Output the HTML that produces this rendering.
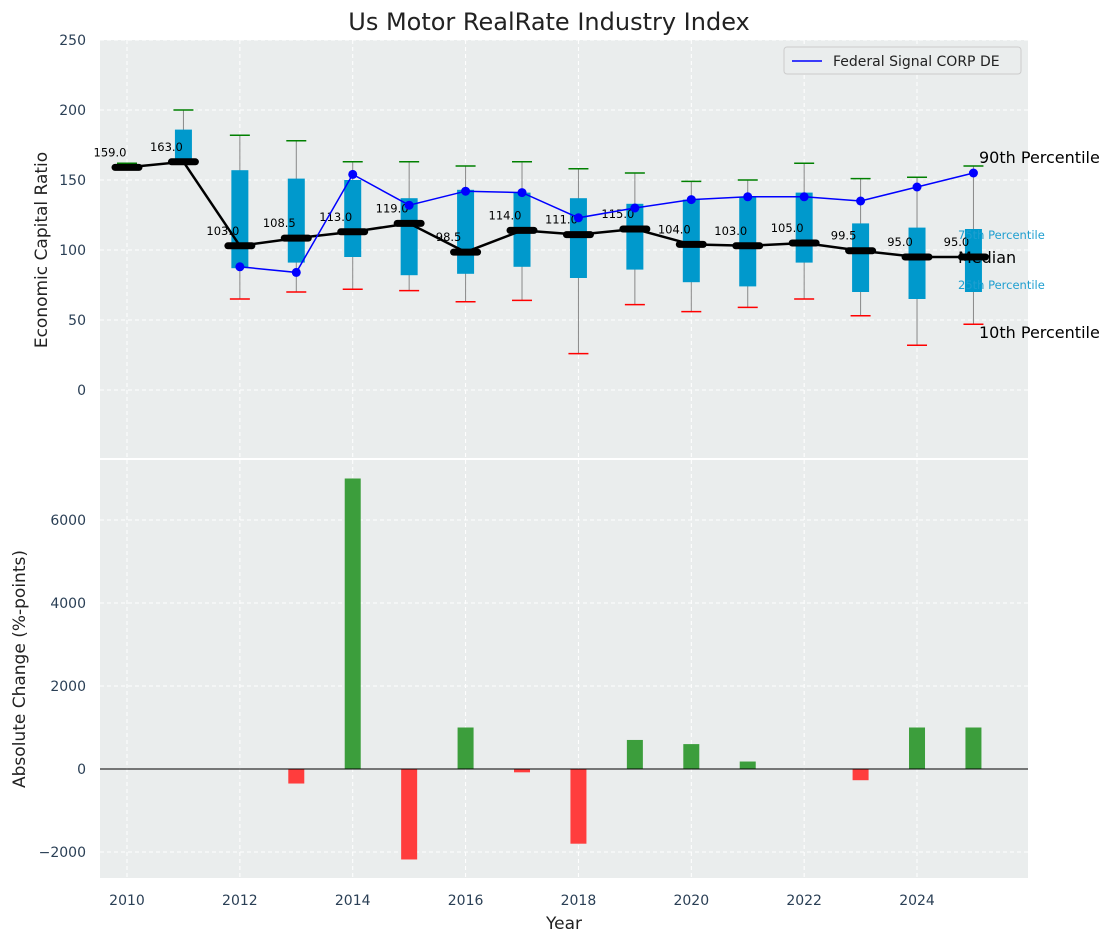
<!DOCTYPE html>
<html><head><meta charset="utf-8"><style>
body{margin:0;background:#fff;font-family:"Liberation Sans","DejaVu Sans",sans-serif;}
svg text{font-family:"DejaVu Sans","Liberation Sans",sans-serif;}
</style></head><body>
<svg id="c" width="1114" height="942" xmlns="http://www.w3.org/2000/svg"></svg>
<script>
const years=[2010,2011,2012,2013,2014,2015,2016,2017,2018,2019,2020,2021,2022,2023,2024,2025];
const medians=[159,163,103,108.5,113,119,98.5,114,111,115,104,103,105,99.5,95,95];
const q25=[159,163,87,91,95,82,83,88,80,86,77,74,91,70,65,70];
const q75=[159,186,157,151,150,137,143,141,137,133,136,138,141,119,116,115];
const p90=[162,200,182,178,163,163,160,163,158,155,149,150,162,151,152,160];
const p10=[null,null,65,70,72,71,63,64,26,61,56,59,65,53,32,47];
const companyYears=[2012,2013,2014,2015,2016,2017,2018,2019,2020,2021,2022,2023,2024,2025];
const companyVals=[88,84,154,132,142,141,123,130,136,138,138,135,145,155];
const changeYears=[2013,2014,2015,2016,2017,2018,2019,2020,2021,2023,2024,2025];
const changeVals=[-350,7000,-2180,1000,-80,-1800,700,600,180,-270,1000,1000];
const topTicks=[0,50,100,150,200,250];
const botTicks=[-2000,0,2000,4000,6000];
const xTicks=[2010,2012,2014,2016,2018,2020,2022,2024];

const svg=document.getElementById('c');const NS='http://www.w3.org/2000/svg';
function el(t,a,p){const e=document.createElementNS(NS,t);for(const k in a)e.setAttribute(k,a[k]);(p||svg).appendChild(e);return e;}
const L=100,R=1028,T1=40,B1=458,T2=460,B2=878;
const x=y=>127+(y-2010)*56.43;
const y1=v=>390-v*1.4;
const y2=v=>769-v*0.0415;

let bg=el('rect',{x:L,y:T1,width:R-L,height:B1-T1,fill:'#eaeded'});

let bg2=el('rect',{x:L,y:T2,width:R-L,height:B2-T2,fill:'#eaeded'});

// grids
xTicks.forEach(t=>{[[T1,B1],[T2,B2]].forEach(r=>el('line',{x1:x(t),x2:x(t),y1:r[0],y2:r[1],stroke:'#fff','stroke-dasharray':'4,3','stroke-width':1}));
 const tx=el('text',{x:x(t),y:905,'text-anchor':'middle','font-size':14,fill:'#2a3f55'});tx.textContent=t;
 });
topTicks.forEach(t=>{el('line',{x1:L,x2:R,y1:y1(t),y2:y1(t),stroke:'#fff','stroke-dasharray':'4,3'});
 const tx=el('text',{x:86,y:y1(t)+5,'text-anchor':'end','font-size':14,fill:'#2a3f55'});tx.textContent=t;
 });
botTicks.forEach(t=>{el('line',{x1:L,x2:R,y1:y2(t),y2:y2(t),stroke:'#fff','stroke-dasharray':'4,3'});
 const tx=el('text',{x:86,y:y2(t)+5,'text-anchor':'end','font-size':14,fill:'#2a3f55'});tx.textContent=(t<0?'\u2212'+(-t):t);
 });
// boxes
years.forEach((yr,i)=>{const cx=x(yr);
 const lo=p10[i]==null?q25[i]:p10[i];
 el('line',{x1:cx,x2:cx,y1:y1(p90[i]),y2:y1(lo),stroke:'#888','stroke-width':1});
 if(q75[i]>q25[i]){const b=el('rect',{x:cx-8.5,y:y1(q75[i]),width:17,height:y1(q25[i])-y1(q75[i]),fill:'#0099cc'});
  }
 el('line',{x1:cx-10,x2:cx+10,y1:y1(p90[i]),y2:y1(p90[i]),stroke:'green','stroke-width':1.5});
 if(p10[i]!=null)el('line',{x1:cx-10,x2:cx+10,y1:y1(p10[i]),y2:y1(p10[i]),stroke:'red','stroke-width':1.5});
});
// median line
let pts=years.map((yr,i)=>x(yr)+','+y1(medians[i])).join(' ');
let ml=el('polyline',{points:pts,fill:'none',stroke:'#000','stroke-width':2.5});

years.forEach((yr,i)=>{const cx=x(yr);
 el('line',{x1:cx-12,x2:cx+12,y1:y1(medians[i]),y2:y1(medians[i]),stroke:'#000','stroke-width':7,'stroke-linecap':'round'});
 const t=el('text',{x:cx-17,y:y1(medians[i])-11,'text-anchor':'middle','font-size':11.5,fill:'#000'});t.textContent=medians[i].toFixed(1);
 });
// company line
let cl=el('polyline',{points:companyYears.map((yr,i)=>x(yr)+','+y1(companyVals[i])).join(' '),fill:'none',stroke:'blue','stroke-width':1.5});

companyYears.forEach((yr,i)=>{const c=el('circle',{cx:x(yr),cy:y1(companyVals[i]),r:4.5,fill:'blue'});
 });
// side labels
[['90th Percentile',979,163,16,'#000'],['75th Percentile',958,239,11.5,'#1f9fd0'],['Median',958,263,16,'#000'],['25th Percentile',958,289,11.5,'#1f9fd0'],['10th Percentile',979,338,16,'#000']].forEach(a=>{
 const t=el('text',{x:a[1],y:a[2],'font-size':a[3],fill:a[4]});t.textContent=a[0];
 });
// legend
const lg=el('g',{});
el('rect',{x:784,y:47,width:237,height:27,fill:'#eaeded',stroke:'#ccc',rx:3},lg);
el('line',{x1:792,x2:822,y1:61,y2:61,stroke:'blue','stroke-width':1.5},lg);
const lt=el('text',{x:833,y:66,'font-size':14,fill:'#222'},lg);lt.textContent='Federal Signal CORP DE';
// bars
changeYears.forEach((yr,i)=>{const v=changeVals[i];const b=el('rect',{x:x(yr)-8,y:Math.min(y2(v),y2(0)),width:16,height:Math.abs(y2(v)-y2(0)),fill:v>=0?'#3c9e3c':'#ff3d3d'});
 });
el('line',{x1:L,x2:R,y1:y2(0),y2:y2(0),stroke:'#000','stroke-width':1});
// titles
const tt=el('text',{x:549,y:30,'text-anchor':'middle','font-size':24,fill:'#222'});tt.textContent='Us Motor RealRate Industry Index';

const xl=el('text',{x:564,y:929,'text-anchor':'middle','font-size':17,fill:'#222'});xl.textContent='Year';

const yl=el('text',{x:0,y:0,'text-anchor':'middle','font-size':17,fill:'#222',transform:'translate(47,250) rotate(-90)'});yl.textContent='Economic Capital Ratio';

const yl2=el('text',{x:0,y:0,'text-anchor':'middle','font-size':17,fill:'#222',transform:'translate(25,669) rotate(-90)'});yl2.textContent='Absolute Change (%-points)';

</script>
</body></html>
